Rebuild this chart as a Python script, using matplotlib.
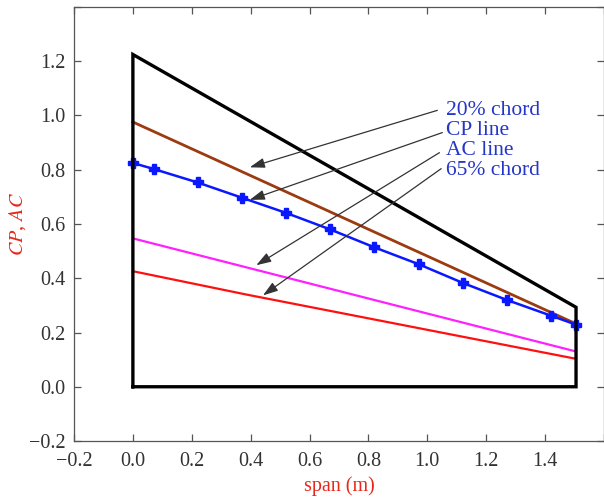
import matplotlib
matplotlib.use("Agg")
import matplotlib.pyplot as plt

plt.rcParams['font.family'] = ['Liberation Serif', 'DejaVu Serif']
plt.rcParams['mathtext.fontset'] = 'stix'

# Wing planform outline (span, chordwise position)
planform_x = [0.0, 0.0, 1.505, 1.505, 0.0]
planform_y = [0.0, 1.225, 0.293, 0.0, 0.0]

# 20% chord line
chord20_x = [0.0, 1.505]
chord20_y = [0.976, 0.232]

# Centre-of-pressure line (computed stations)
cp_x = [0.0, 0.07, 0.22, 0.37, 0.52, 0.67, 0.82, 0.97, 1.12, 1.27, 1.42, 1.505]
cp_y = [0.825, 0.803, 0.753, 0.697, 0.641, 0.580, 0.514, 0.452, 0.383, 0.320, 0.262, 0.229]

# Aerodynamic-centre line
ac_x = [0.0, 1.505]
ac_y = [0.547, 0.130]

# 65% chord line
chord65_x = [0.0, 0.385, 1.505]
chord65_y = [0.426, 0.340, 0.103]

# Callout labels: text, arrow tail (near label), arrow head (on line)
labels = ["20% chord", "CP line", "AC line", "65% chord"]
label_y = [1.019, 0.944, 0.870, 0.799]
label_x = 1.063
tail_xy = [(1.034, 1.019), (1.051, 0.937), (1.041, 0.863), (1.047, 0.804)]
head_xy = [(0.397, 0.809), (0.397, 0.689), (0.419, 0.448), (0.442, 0.337)]

x_ticks = [-0.2, 0.0, 0.2, 0.4, 0.6, 0.8, 1.0, 1.2, 1.4, 1.6]
y_ticks = [-0.2, 0.0, 0.2, 0.4, 0.6, 0.8, 1.0, 1.2, 1.4]

W, H = 604, 501
fig = plt.figure(figsize=(W / 100, H / 100), dpi=100)
ax = fig.add_axes([74 / W, (H - 441) / H, (604 - 74) / W, (441 - 7) / H])

ax.plot(chord65_x, chord65_y, color='#ff1010', lw=1.6, zorder=3)
ax.plot(ac_x, ac_y, color='#ff20ff', lw=1.6, zorder=3)
ax.plot(chord20_x, chord20_y, color='#9c3a10', lw=2.0, zorder=3)
ax.plot(cp_x, cp_y, color='#0a18ff', lw=1.8, marker='P', ms=7,
        mec='#0a18ff', mfc='#0a18ff', zorder=4)
ax.plot(planform_x, planform_y, color='black', lw=2.4, solid_joinstyle='miter',
        zorder=5)

for txt, ty, tail, head in zip(labels, label_y, tail_xy, head_xy):
    ax.annotate('', xy=head, xytext=tail,
                arrowprops=dict(arrowstyle='-|>,head_length=0.9,head_width=0.3',
                                color='#333333', lw=0.9, shrinkA=0, shrinkB=0),
                zorder=6)
    ax.text(label_x, ty, txt, color='#2436c8', fontsize=15.5,
            ha='left', va='center', zorder=6)

ax.set_xlim(-0.2, 1.6)
ax.set_ylim(-0.2, 1.4)
ax.set_xticks(x_ticks)
ax.set_yticks(y_ticks)
ax.set_xticklabels(['\u22120.2', '0.0', '0.2', '0.4', '0.6', '0.8', '1.0', '1.2', '1.4', ''])
ax.set_yticklabels(['\u22120.2', '0.0', '0.2', '0.4', '0.6', '0.8', '1.0', '1.2', ''])

ax.tick_params(direction='in', length=5, width=0.9, color='#555555',
               labelcolor='#333333', labelsize=14.5, top=True, right=True)
ax.tick_params(axis='x', pad=8)
ax.tick_params(axis='y', pad=6)
for sp in ax.spines.values():
    sp.set_color('#555555')
    sp.set_linewidth(0.9)

ax.set_xlabel('span (m)', color='#e8271a', fontsize=14.5, labelpad=4)
ax.set_ylabel(r'$\mathit{CP}$, $\mathit{AC}$', color='#e8271a', fontsize=14.5, labelpad=1)

fig.savefig('out.png', dpi=100)
